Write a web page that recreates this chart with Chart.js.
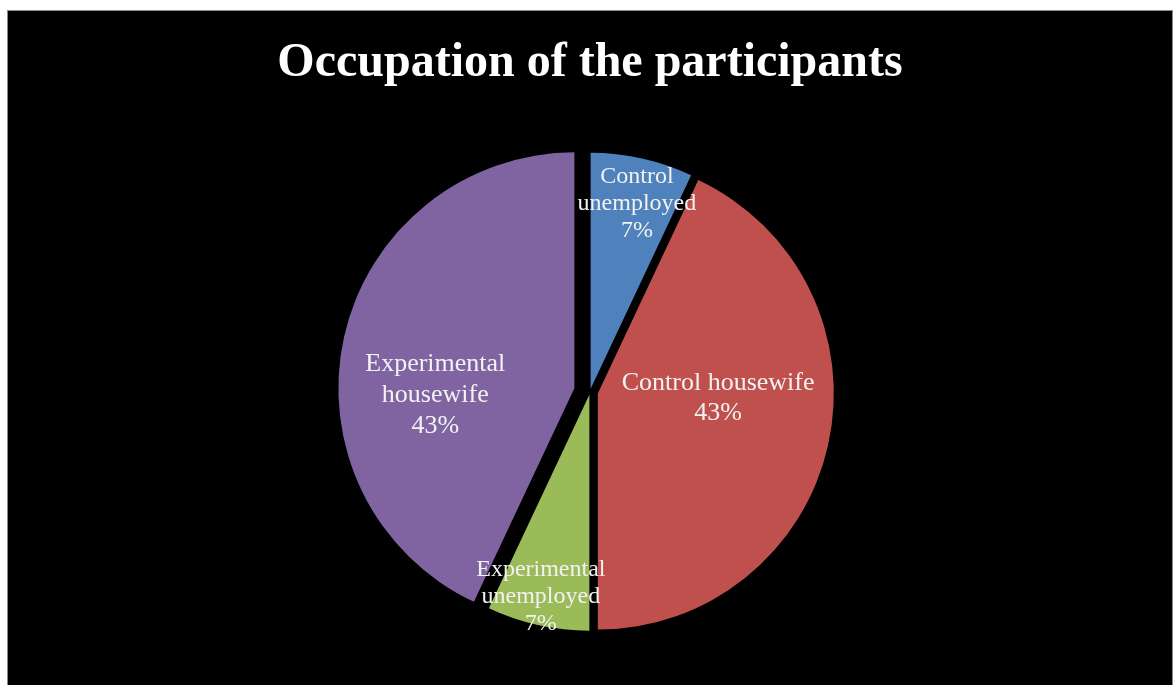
<!DOCTYPE html>
<html>
<head>
<meta charset="utf-8">
<title>Occupation of the participants</title>
<script src="https://cdn.jsdelivr.net/npm/chart.js@4/dist/chart.umd.min.js"></script>
<style>
    html, body { margin: 0; padding: 0; background: #fff; overflow: hidden; }
    #frame {
        position: absolute;
        left: 7px;
        top: 10px;
        width: 1164px;
        height: 680px;
        border: 1px solid #8a8a8a;
        background: #000;
    }
    #pie { display: block; }
</style>
</head>
<body>
<div id="frame">
    <canvas id="pie" width="1164" height="674"></canvas>
</div>
<script>
; (function () {
    'use strict'

    // ---------------------------------------------------------------------------
    // DATA
    // ---------------------------------------------------------------------------

    const TITLE = 'Occupation of the participants'
    const CATEGORIES = ['Control unemployed', 'Control housewife', 'Experimental unemployed', 'Experimental housewife']
    const VALUES = [7, 43, 7, 43]

    // ---------------------------------------------------------------------------
    // STYLE
    // ---------------------------------------------------------------------------

    const COLORS = ['#4F81BD', '#C0504D', '#9BBB59', '#8064A2']
    const EXPLODE = [3, 8, 3, 16]              // px pulled out along each slice's bisector
    const WRAP = [true, false, true, true]      // break the category name onto separate lines
    const LABEL_FONT = [24, 26, 24, 26]
    const LABEL_LINE = [27, 30, 27, 31]
    // label anchor: angle clockwise from 12 o'clock (deg) and fraction of radius, from slice apex
    const LABEL_AT = [
        { deg: 14, f: 0.81 },
        { deg: 92, f: 0.51 },
        { deg: 193.5, f: 0.88 },
        { deg: 267.3, f: 0.59 },
    ]

    const total = VALUES.reduce((s, v) => s + v, 0)

    function labelLines(i) {
        const pct = Math.round(VALUES[i] / total * 100) + '%'
        const name = CATEGORIES[i]
        return WRAP[i] ? name.split(' ').concat(pct) : [name, pct]
    }

    // draw each arc shifted outwards instead of Chart.js' own offset handling
    const explodedSlices = {
        id: 'explodedSlices',
        beforeDatasetDraw(chart, args) {
            const ctx = chart.ctx
            args.meta.data.forEach((arc, i) => {
                const mid = (arc.startAngle + arc.endAngle) / 2
                const d = EXPLODE[i] || 0
                ctx.save()
                ctx.translate(Math.cos(mid) * d, Math.sin(mid) * d)
                arc.draw(ctx)
                ctx.restore()
            })
            return false
        },
    }

    const sliceLabels = {
        id: 'sliceLabels',
        afterDatasetsDraw(chart) {
            const ctx = chart.ctx
            const meta = chart.getDatasetMeta(0)
            meta.data.forEach((arc, i) => {
                const mid = (arc.startAngle + arc.endAngle) / 2
                const d = EXPLODE[i] || 0
                const ax = arc.x + Math.cos(mid) * d
                const ay = arc.y + Math.sin(mid) * d
                const a = -Math.PI / 2 + LABEL_AT[i].deg * Math.PI / 180
                const r = LABEL_AT[i].f * arc.outerRadius
                const cx = ax + Math.cos(a) * r
                const cy = ay + Math.sin(a) * r
                const lines = labelLines(i)
                const lh = LABEL_LINE[i]
                ctx.save()
                ctx.font = LABEL_FONT[i] + 'px "Liberation Serif", "Times New Roman", serif'
                ctx.fillStyle = '#f2f2f2'
                ctx.textAlign = 'center'
                ctx.textBaseline = 'middle'
                lines.forEach((line, k) => {
                    ctx.fillText(line, cx, cy + (k - (lines.length - 1) / 2) * lh)
                })
                ctx.restore()
            })
        },
    }

    new Chart(document.getElementById('pie'), {
        type: 'pie',
        data: {
            labels: CATEGORIES,
            datasets: [{
                data: VALUES,
                backgroundColor: COLORS,
                borderWidth: 0,
                radius: 236,
                clip: false,
            }],
        },
        options: {
            responsive: false,
            animation: false,
            devicePixelRatio: 1,
            layout: { padding: 0 },
            plugins: {
                legend: { display: false },
                tooltip: { enabled: false },
                title: {
                    display: true,
                    text: TITLE,
                    color: '#ffffff',
                    font: { family: '"Liberation Serif", "Times New Roman", serif', size: 48, weight: 'bold' },
                    padding: { top: 24, bottom: 6 },
                },
            },
        },
        plugins: [explodedSlices, sliceLabels],
    })
})()
</script>
</body>
</html>
